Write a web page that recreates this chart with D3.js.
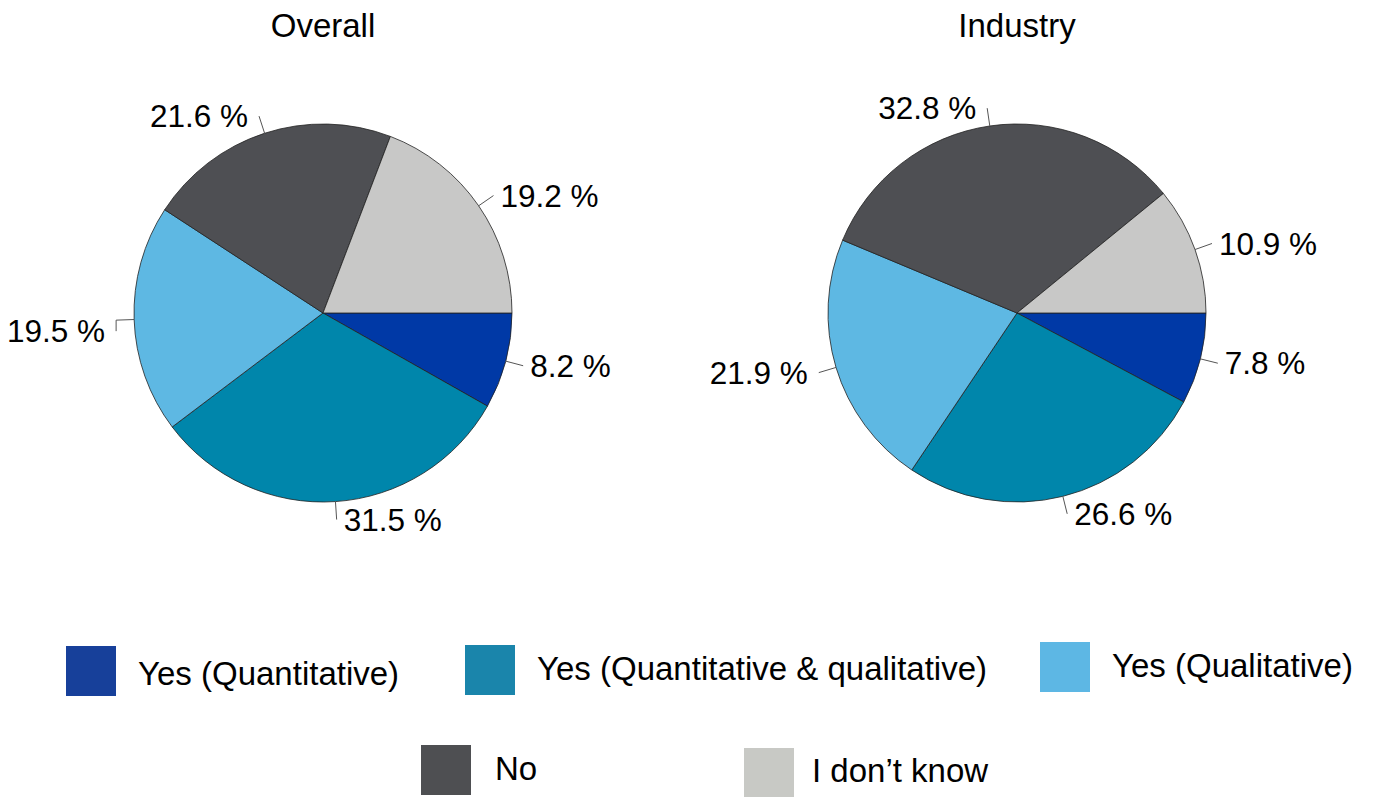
<!DOCTYPE html>
<html>
<head>
<meta charset="utf-8">
<script src="https://cdn.jsdelivr.net/npm/d3@7"></script>
<style>
  body { margin: 0; background: #fff; }
  text { font-family: "Liberation Sans", Arial, sans-serif; fill: #000; }
</style>
</head>
<body>
<div id="chart"></div>
<script>
// datos
var categories = ["Yes (Quantitative)", "Yes (Quantitative & qualitative)", "Yes (Qualitative)", "No", "I don\u2019t know"];
var titles = ["Overall", "Industry"];
var overallValues = [8.2, 31.5, 19.5, 21.6, 19.2];
var industryValues = [7.8, 26.6, 21.9, 32.8, 10.9];

var width = 1374,
    height = 797,
    radio = 189;

var sliceColor = d3.scaleOrdinal()
    .domain(categories)
    .range(["#0039a6", "#0086ab", "#5eb8e3", "#4e4f53", "#c8c8c7"]);

var legendColor = d3.scaleOrdinal()
    .domain(categories)
    .range(["#17409a", "#1a85ab", "#5db7e4", "#4e4f52", "#c8c9c5"]);

// centro de cada torta
var xCenter = d3.scalePoint().domain(titles).range([323, 1017]);
var yCenter = 313;

var svg = d3.select("#chart")
    .append("svg")
    .attr("width", width)
    .attr("height", height);

// la torta arranca a las 3 en punto y gira en sentido horario
var pie = d3.pie()
    .sort(null)
    .value(d => d.value)
    .startAngle(Math.PI / 2)
    .endAngle(Math.PI / 2 + 2 * Math.PI);

var arc = d3.arc().innerRadius(0).outerRadius(radio);

// pequeño ajuste vertical para etiquetas que se movieron en el original
var nudge = { "Overall-2": 11 };

[overallValues, industryValues].forEach(function (values, k) {
    var name = titles[k];
    var data = categories.map((c, i) => ({ cat: c, value: values[i] }));
    var g = svg.append("g")
        .attr("transform", "translate(" + xCenter(name) + "," + yCenter + ")");

    svg.append("text")
        .attr("x", xCenter(name))
        .attr("y", 37)
        .attr("text-anchor", "middle")
        .style("font-size", "33px")
        .text(name);

    var arcs = pie(data);

    g.selectAll("path")
        .data(arcs)
        .enter().append("path")
        .attr("d", arc)
        .style("fill", d => sliceColor(d.data.cat))
        .style("stroke", "#222")
        .style("stroke-width", 0.8);

    arcs.forEach(function (d, i) {
        var a = (d.startAngle + d.endAngle) / 2 - Math.PI / 2;
        var cx = Math.cos(a), cy = Math.sin(a);
        var p0 = [cx * radio, cy * radio];
        var p1 = [cx * (radio + 18), cy * (radio + 18)];
        var dy = nudge[name + "-" + i] || 0;
        var pts = [p0, p1];
        if (dy) pts.push([p1[0], p1[1] + dy]);
        g.append("path")
            .attr("d", d3.line()(pts))
            .style("fill", "none")
            .style("stroke", "#555")
            .style("stroke-width", 1);
        var right = cx >= 0;
        g.append("text")
            .attr("x", p1[0] + (right ? 7 : -11))
            .attr("y", p1[1] + dy)
            .attr("dy", "0.35em")
            .attr("text-anchor", right ? "start" : "end")
            .style("font-size", "31.5px")
            .text(d3.format(".1f")(d.data.value) + " %");
    });
});

// leyenda
var legendPos = [[66, 646], [465, 645], [1040, 642], [421, 745], [744, 748]];
var legend = svg.selectAll(".legend")
    .data(categories)
    .enter().append("g")
    .attr("class", "legend")
    .attr("transform", (d, i) => "translate(" + legendPos[i][0] + "," + legendPos[i][1] + ")");

legend.append("rect")
    .attr("width", 50)
    .attr("height", 50)
    .style("fill", d => legendColor(d));

legend.append("text")
    .attr("x", (d, i) => i === 3 ? 74 : (i === 4 ? 68 : 72))
    .attr("y", (d, i) => [27, 23, 23, 23, 22][i])
    .attr("dy", "0.35em")
    .style("font-size", "33px")
    .text(d => d);
</script>
</body>
</html>
